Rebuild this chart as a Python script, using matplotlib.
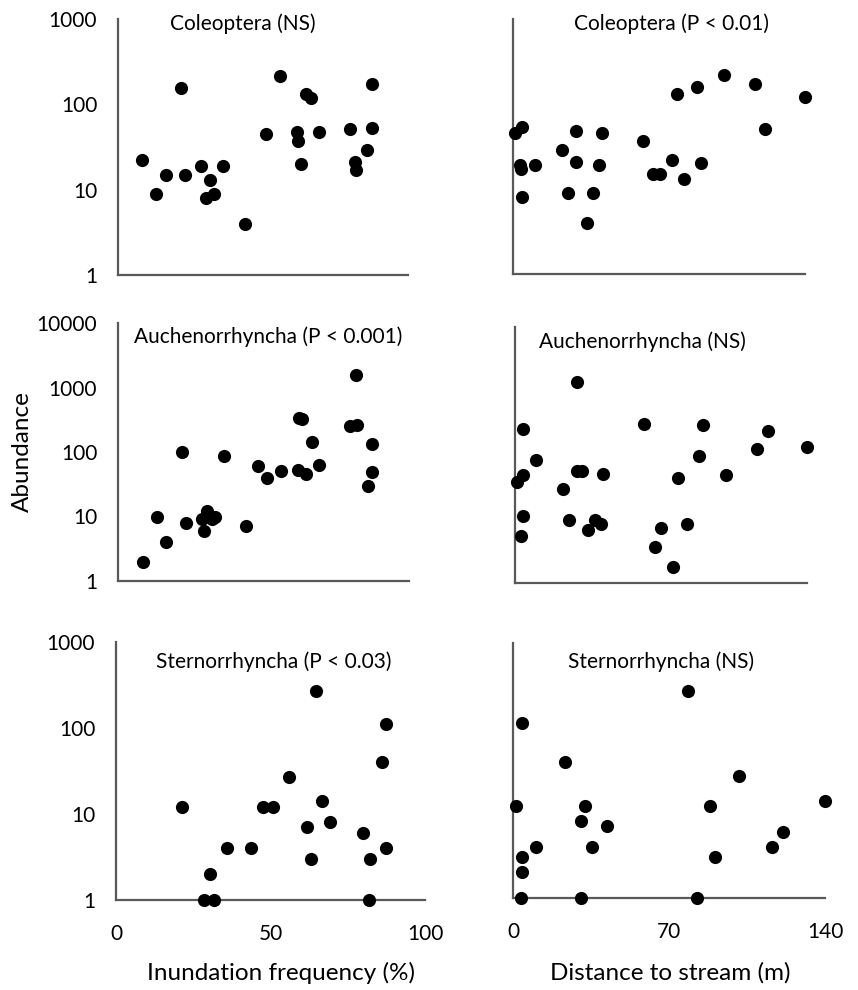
import matplotlib
matplotlib.use("Agg")
import matplotlib.pyplot as plt
from matplotlib.ticker import FixedLocator, NullLocator

plt.rcParams['font.family'] = ['Lato', 'DejaVu Sans']

# ---------------- data ----------------
col_x_inund = [8.2, 13.0, 16.4, 21.7, 23.2, 28.5, 31.7, 30.3, 33.1, 36.3, 43.9, 51.0, 56.0,
               61.7, 62.1, 63.2, 64.7, 66.7, 69.2, 79.9, 81.7, 82.0, 86.0, 87.5, 87.5]
col_y_inund = [22, 9, 15, 157, 15, 19, 13, 8, 9, 19, 4, 45, 217,
               47, 37, 20, 131, 119, 48, 51, 21, 17, 29, 173, 53]

col_x_dist = [1.1, 4.5, 3.4, 3.9, 10.4, 4.3, 23.5, 30.4, 30.4, 26.5, 35.3, 38.5, 41.2,
              42.5, 62.3, 67.1, 70.6, 76.2, 78.5, 82.2, 88.4, 90.1, 101.3, 116.0, 121.0, 140.0]
col_y_dist = [45, 54, 19, 17, 19, 8, 29, 48, 21, 9, 4, 9, 19,
              46, 37, 15, 15, 22, 131, 13, 157, 20, 221, 173, 51, 120]

auc_x_inund = [8.5, 13.3, 16.6, 21.9, 23.4, 28.9, 29.6, 30.7, 32.2, 33.3, 36.3, 44.0, 48.1, 51.2,
               56.1, 61.7, 62.2, 63.3, 64.7, 66.7, 69.2, 79.6, 82.1, 81.7, 86.0, 87.4, 87.4]
auc_y_inund = [2, 10, 4, 100, 8, 9, 6, 12, 9, 10, 87, 7, 61, 40,
               51, 53, 337, 321, 46, 144, 63, 250, 265, 1545, 30, 49, 133]

auc_x_dist = [0.8, 4.0, 4.0, 10.1, 4.0, 2.9, 23.2, 29.9, 29.9, 32.1, 26.0, 35.2, 38.4, 41.2,
              42.2, 62.0, 67.1, 70.2, 75.9, 78.3, 82.3, 88.1, 90.1, 101.3, 116.2, 121.2, 140.0]
auc_y_dist = [38, 258, 48, 84, 11, 5.5, 29, 1400, 57, 57, 9.5, 6.8, 9.5, 8.5,
              50, 300, 3.7, 7.3, 1.8, 43, 8.5, 95, 290, 48, 125, 235, 135]

ste_x_inund = [21.4, 28.6, 31.6, 30.3, 35.9, 43.8, 47.6, 50.9, 55.9, 61.8,
               63.0, 64.6, 66.6, 69.3, 80.0, 82.0, 82.2, 86.1, 87.4, 87.4]
ste_y_inund = [12, 1, 1, 2, 4, 4, 12, 12, 27, 7,
               3, 272, 14, 8, 6, 1, 3, 40, 112, 4]

ste_x_dist = [1.2, 3.5, 4.2, 4.2, 4.2, 10.5, 23.3, 30.5, 30.5, 32.3,
              35.6, 42.2, 78.5, 82.4, 88.3, 90.5, 101.4, 116.4, 121.3, 140.0]
ste_y_dist = [12, 1, 2, 3, 115, 4, 40, 1, 8, 12,
              4, 7, 272, 1, 12, 3, 27, 4, 6, 14]

titles = ["Coleoptera (NS)", "Coleoptera (P < 0.01)",
          "Auchenorrhyncha (P < 0.001)", "Auchenorrhyncha (NS)",
          "Sternorrhyncha (P < 0.03)", "Sternorrhyncha (NS)"]
x_ticks_inund = [0, 50, 100]
x_ticks_dist = [0, 70, 140]
y_ticks_3 = [1, 10, 100, 1000]
y_ticks_4 = [1, 10, 100, 1000, 10000]
xlabel_left = "Inundation frequency (%)"
xlabel_right = "Distance to stream (m)"
ylabel = "Abundance"

# ---------------- layout ----------------
W, H = 858, 990
fig = plt.figure(figsize=(W / 100, H / 100), dpi=100)


def add_ax(x0, x1, y0, y1):
    return fig.add_axes([x0 / W, 1 - y1 / H, (x1 - x0) / W, (y1 - y0) / H])


panels = [
    (add_ax(118, 408, 19, 275), col_x_inund, col_y_inund, (0, 100), 1000, True, False, (243, 24)),
    (add_ax(513, 805, 19, 274), col_x_dist, col_y_dist, (0, 140), 1000, False, False, (672, 24)),
    (add_ax(118, 409, 323, 581), auc_x_inund, auc_y_inund, (0, 100), 10000, True, False, (268, 337)),
    (add_ax(515, 807, 327, 583), auc_x_dist, auc_y_dist, (0, 140), 10000, False, False, (642, 342)),
    (add_ax(116, 425, 642, 900), ste_x_inund, ste_y_inund, (0, 100), 1000, True, True, (274, 662)),
    (add_ax(513, 825, 643, 898), ste_x_dist, ste_y_dist, (0, 140), 1000, False, True, (661, 662)),
]

spine_color = "#595959"
for i, (ax, xs, ys, xlim, ymax, ylabels, xlabels, tpos) in enumerate(panels):
    ax.scatter(xs, ys, s=90, color="black", clip_on=False, zorder=3, linewidths=0)
    ax.set_yscale("log")
    ax.set_xlim(*xlim)
    ax.set_ylim(1, ymax)
    for s in ("top", "right"):
        ax.spines[s].set_visible(False)
    for s in ("left", "bottom"):
        ax.spines[s].set_color(spine_color)
        ax.spines[s].set_linewidth(1.6)
    ax.tick_params(axis="y", length=0, labelsize=15, pad=15, colors="black")
    ax.tick_params(axis="x", length=0, labelsize=15, pad=17, colors="black")
    ax.yaxis.set_minor_locator(NullLocator())
    if ylabels:
        yt = y_ticks_4 if ymax == 10000 else y_ticks_3
        ax.yaxis.set_major_locator(FixedLocator(yt))
        ax.set_yticklabels([str(v) for v in yt])
    else:
        ax.yaxis.set_major_locator(NullLocator())
    if xlabels:
        xt = x_ticks_inund if xlim[1] == 100 else x_ticks_dist
        ax.xaxis.set_major_locator(FixedLocator(xt))
        ax.set_xticklabels([str(v) for v in xt])
    else:
        ax.xaxis.set_major_locator(NullLocator())
    ax.xaxis.set_minor_locator(NullLocator())
    fig.text(tpos[0] / W, 1 - tpos[1] / H, titles[i], ha="center", va="center", fontsize=15)

fig.text(281 / W, 1 - 973 / H, xlabel_left, ha="center", va="center", fontsize=17.5)
fig.text(670 / W, 1 - 973 / H, xlabel_right, ha="center", va="center", fontsize=17.5)
fig.text(22 / W, 1 - 452 / H, ylabel, ha="center", va="center", rotation=90, fontsize=17.5)

fig.savefig("out.png", dpi=100, facecolor="white")
